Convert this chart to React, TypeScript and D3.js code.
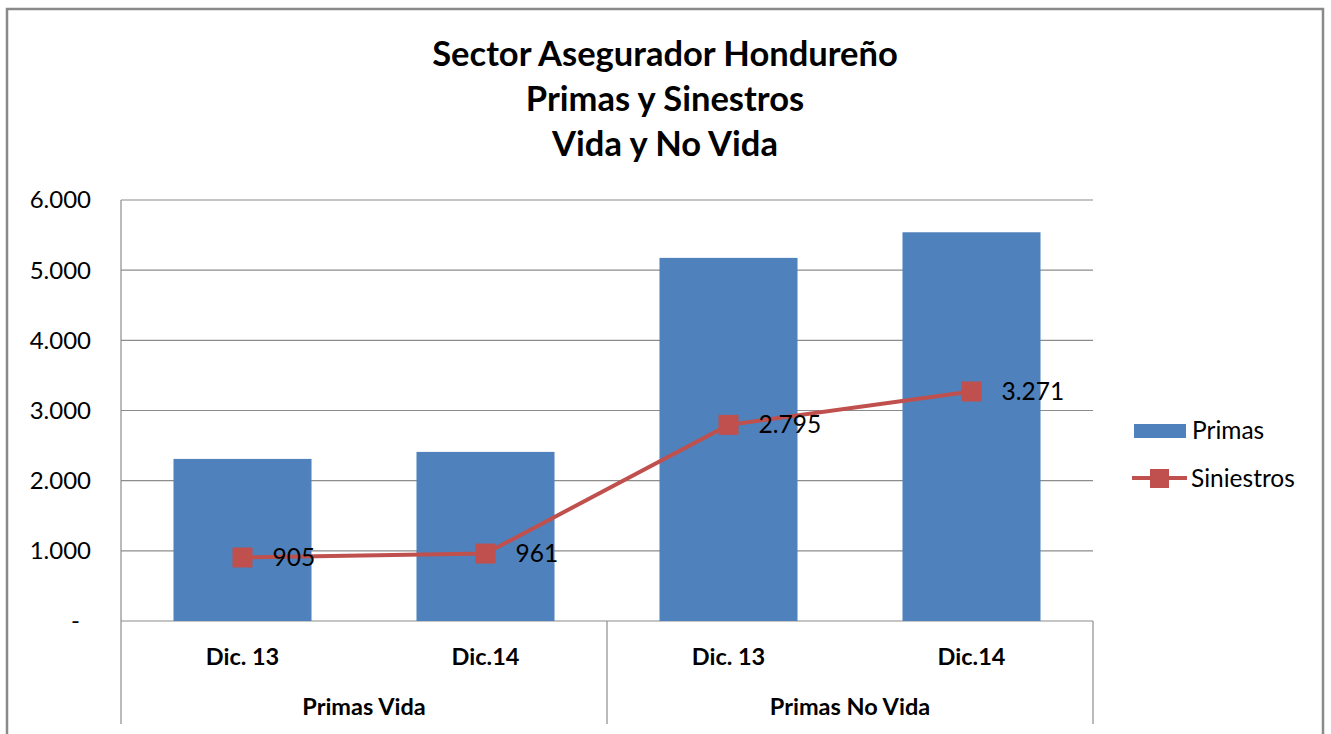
import React from 'react'
import * as d3 from 'd3'

const categories = ['Dic. 13', 'Dic.14', 'Dic. 13', 'Dic.14']
const groups = ['Primas Vida', 'Primas No Vida']
const primas = [2310, 2410, 5175, 5540]
const siniestros = [905, 961, 2795, 3271]
const yTicks = [0, 1000, 2000, 3000, 4000, 5000, 6000]
const titleLines = ['Sector Asegurador Hondureño', 'Primas y Sinestros', 'Vida y No Vida']

const W = 1331
const H = 734
const font = 'Lato, "Open Sans", sans-serif'
const blue = '#4F81BD'
const red = '#C0504D'
const grid = '#8c8c8c'

const fmt = (v: number) => (v === 0 ? '-' : d3.format(',')(v).replace(/,/g, '.'))

export default function App() {
  const plot = { left: 121, right: 1093, top: 200, bottom: 621 }

  const x = d3.scaleBand<number>()
    .domain(d3.range(categories.length))
    .range([plot.left, plot.right])
    .paddingInner(0.432)
    .paddingOuter(0.216)

  const y = d3.scaleLinear().domain([0, 6000]).range([plot.bottom, plot.top])
  const cx = (i: number) => (x(i) || 0) + x.bandwidth() / 2

  const line = d3.line<number>()
    .x((_, i) => cx(i))
    .y(d => y(d))

  const groupX = d3.scaleBand<number>().domain(d3.range(groups.length)).range([plot.left, plot.right])

  return (
    <div style={{ position: 'absolute', left: 0, top: 0 }}>
      <svg width={W} height={H} style={{ display: 'block' }}>
        <rect x={0} y={0} width={W} height={H} fill="#fff" />
        {/* outer chart frame */}
        <path d={`M7,${H} V9 H1323 V${H}`} fill="none" stroke="#8a8a8a" strokeWidth={2.5} />

        {/* title */}
        <g fontFamily={font} fontWeight="bold" fontSize={34.5} textAnchor="middle" fill="#000">
          {titleLines.map((t, i) => (
            <text key={i} x={665} y={66 + i * 45}>{t}</text>
          ))}
        </g>

        {/* gridlines */}
        {yTicks.map(t => (
          <line key={t} x1={plot.left} x2={plot.right} y1={y(t)} y2={y(t)} stroke={grid} strokeWidth={1.2} />
        ))}

        {/* y tick labels */}
        <g fontFamily={font} fontSize={24} textAnchor="end" fill="#000">
          {yTicks.map(t => (
            <text key={t} x={t === 0 ? 80 : 91} y={y(t)} dy="0.35em">{fmt(t)}</text>
          ))}
        </g>

        {/* bars */}
        {primas.map((v, i) => (
          <rect key={i} x={x(i)} y={y(v)} width={x.bandwidth()} height={y(0) - y(v)} fill={blue} />
        ))}

        {/* axis frame lines */}
        <line x1={plot.left} x2={plot.left} y1={plot.top} y2={724} stroke={grid} strokeWidth={1.2} />
        <line x1={groupX(1)} x2={groupX(1)} y1={plot.bottom} y2={724} stroke={grid} strokeWidth={1.2} />
        <line x1={plot.right} x2={plot.right} y1={plot.bottom} y2={724} stroke={grid} strokeWidth={1.2} />

        {/* category labels */}
        <g fontFamily={font} fontWeight="bold" fontSize={23.5} textAnchor="middle" fill="#000">
          {categories.map((c, i) => (
            <text key={i} x={cx(i)} y={657} dy="0.35em">{c}</text>
          ))}
          {groups.map((g, i) => (
            <text key={g} x={(groupX(i) || 0) + groupX.bandwidth() / 2} y={707} dy="0.35em">{g}</text>
          ))}
        </g>

        {/* siniestros line */}
        <path d={line(siniestros) || ''} fill="none" stroke={red} strokeWidth={4} />
        {siniestros.map((v, i) => (
          <rect key={i} x={cx(i) - 10} y={y(v) - 10} width={20} height={20} fill={red} />
        ))}
        <g fontFamily={font} fontSize={24.5} fill="#000">
          {siniestros.map((v, i) => (
            <text key={i} x={cx(i) + 30} y={y(v)} dy="0.35em">{fmt(v)}</text>
          ))}
        </g>

        {/* legend */}
        <rect x={1134} y={424} width={52} height={14} fill={blue} />
        <line x1={1132} x2={1187} y1={478} y2={478} stroke={red} strokeWidth={4} />
        <rect x={1150} y={469} width={19} height={19} fill={red} />
        <g fontFamily={font} fontSize={24.5} fill="#000">
          <text x={1192} y={430} dy="0.35em">Primas</text>
          <text x={1191} y={478} dy="0.35em">Siniestros</text>
        </g>
      </svg>
    </div>
  )
}
